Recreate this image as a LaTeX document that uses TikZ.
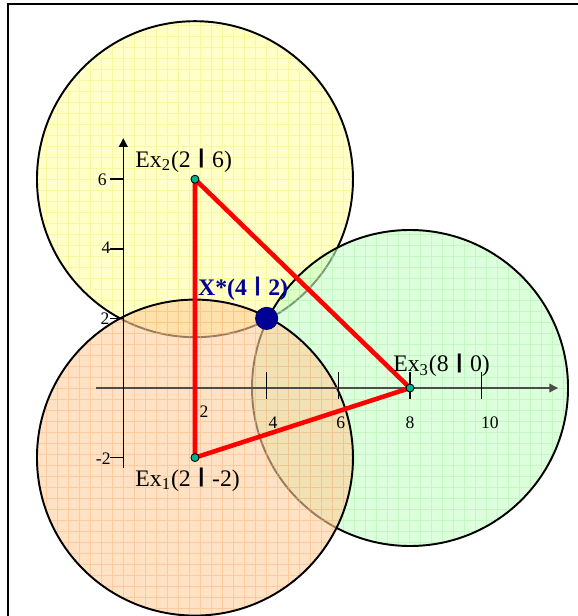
\documentclass[tikz,border=0pt]{standalone}
\usepackage{fontspec}
\setmainfont{Liberation Serif}
\newfontfamily\krbarfont{DejaVu Sans}
\usetikzlibrary{arrows.meta,backgrounds}
\definecolor{krgelb}{RGB}{255,255,163}
\definecolor{krgelbgrid}{RGB}{245,240,110}
\definecolor{krorange}{RGB}{255,205,155}
\definecolor{krorangegrid}{RGB}{250,175,115}
\definecolor{krgruen}{RGB}{197,255,197}
\definecolor{krgruengrid}{RGB}{165,240,165}
\definecolor{krteal}{RGB}{0,180,140}
\definecolor{krnavy}{RGB}{0,0,150}
\newcommand{\krbar}{\raisebox{0.16em}{\scalebox{1.1}[0.8]{\krbarfont\bfseries |}}}
\tikzset{
  krfill/.style={opacity=0.6},
  krgrid/.style={line width=0.25pt, opacity=0.45},
  krcircle/.style={draw=black, line width=1.1pt},
  krline/.style={draw=red, line width=2.6pt, line join=round},
  krpt/.style={circle, draw=black, fill=krteal, line width=0.5pt, inner sep=0pt, minimum size=0.16cm},
  krxs/.style={circle, draw=krnavy!70!black, fill=krnavy, line width=0.6pt, inner sep=0pt, minimum size=0.44cm},
  kraxis/.style={draw=black, line width=0.8pt, -{Triangle[length=5pt,width=5pt]}},
  krtick/.style={draw=black, line width=0.8pt},
  krnum/.style={font=\fontsize{10}{12}\selectfont, inner sep=0pt},
  krlabel/.style={font=\fontsize{13.5}{16}\selectfont, anchor=base west, inner sep=0pt}
}

\begin{document}
\begin{tikzpicture}[x=0.7168cm, y=0.696cm]
  \useasboundingbox (-2.466cm,-4.56cm) rectangle (9.074cm,7.76cm);
  \draw[line width=1.7pt] (-2.306cm,-5cm) -- (-2.306cm,7.68cm) -- (9.5cm,7.68cm);

  \node[krpt] (ex1) at (2,-2) {};
  \node[krpt] (ex2) at (2,6) {};
  \node[krpt] (ex3) at (8,0) {};
  \node[krxs] (xs) at (4,2) {};

  \node[krlabel] (l1) at (0.33,-2.82) {Ex\textsubscript{1}(2 \krbar{} -2)};
  \node[krlabel] (l2) at (0.33,6.35) {Ex\textsubscript{2}(2 \krbar{} 6)};
  \node[krlabel] (l3) at (7.525,0.46) {Ex\textsubscript{3}(8 \krbar{} 0)};
  \node[krlabel, font=\fontsize{13.5}{16}\selectfont\bfseries, text=krnavy] (lx) at (2.08,2.67) {X*(4 \krbar{} 2)};

  \node[krnum] (nx2) at (2.25,-0.69) {2};
  \node[krnum] (nx4) at (4.18,-1.0) {4};
  \node[krnum] (nx6) at (6.07,-1.0) {6};
  \node[krnum] (nx8) at (8.0,-1.0) {8};
  \node[krnum] (nx10) at (10.23,-1.0) {10};
  \node[krnum] (ny6) at (-0.59,5.98) {6};
  \node[krnum] (ny4) at (-0.48,4.02) {4};
  \node[krnum] (ny2) at (-0.51,1.98) {2};
  \node[krnum] (nym2) at (-0.56,-2.04) {-2};

  \coordinate (xa0) at (-0.76,0);
  \coordinate (xa1) at (12.13,0);
  \coordinate (ya0) at (0,-2.3);
  \coordinate (ya1) at (0,7.18);

  \begin{scope}[on background layer]
    \fill[white] (-2.466cm,-4.56cm) rectangle (9.074cm,7.76cm);
    \begin{scope}
      \clip (ex2.center) circle (3.16cm);
      \fill[krgelb, krfill] (ex2.center) circle (3.16cm);
      \draw[krgelbgrid, krgrid, step=0.22cm] (-4,-8) grid (14,12);
    \end{scope}
    \draw[krcircle] (ex2.center) circle (3.16cm);
    \begin{scope}
      \clip (ex3.center) circle (3.16cm);
      \fill[krgruen, krfill] (ex3.center) circle (3.16cm);
      \draw[krgruengrid, krgrid, step=0.22cm] (-4,-8) grid (14,12);
    \end{scope}
    \draw[krcircle] (ex3.center) circle (3.16cm);
    \begin{scope}
      \clip (ex1.center) circle (3.16cm);
      \fill[krorange, krfill] (ex1.center) circle (3.16cm);
      \draw[krorangegrid, krgrid, step=0.22cm] (-4,-8) grid (14,12);
    \end{scope}
    \draw[krcircle] (ex1.center) circle (3.16cm);

    \draw[kraxis, draw=black!70] (xa0) -- (xa1);
    \draw[kraxis] (ya0) -- (ya1);
    \draw[krtick] (2,-0.32) -- (2,0.46);
    \draw[krtick] (4,-0.32) -- (4,0.46);
    \draw[krtick] (6,-0.32) -- (6,0.46);
    \draw[krtick] (8,-0.32) -- (8,0.46);
    \draw[krtick] (10,-0.32) -- (10,0.46);
    \draw[krtick] (-0.36,6) -- (0,6);
    \draw[krtick] (-0.36,4) -- (0,4);
    \draw[krtick] (-0.36,2) -- (0,2);
    \draw[krtick] (-0.36,-2) -- (0,-2);

    \draw[krline] (ex2.center) -- (ex1.center) -- (ex3.center) -- cycle;
  \end{scope}
\end{tikzpicture}
\end{document}
